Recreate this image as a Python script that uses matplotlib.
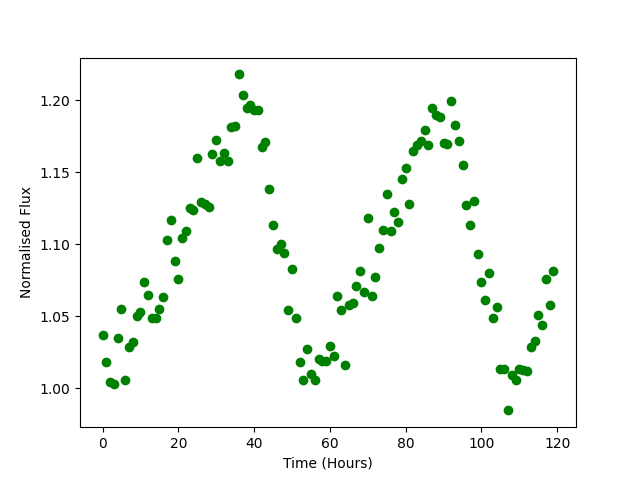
import matplotlib
matplotlib.use("Agg")
import matplotlib.pyplot as plt
import numpy as np

time_hours = list(range(120))
flux = [
    1.0366, 1.0178, 1.0042, 1.0026, 1.0345, 1.0547, 1.0053, 1.0287, 1.0322, 1.0500,
    1.0528, 1.0734, 1.0644, 1.0486, 1.0484, 1.0547, 1.0630, 1.1025, 1.1164, 1.0880,
    1.0760, 1.1040, 1.1088, 1.1250, 1.1238, 1.1600, 1.1294, 1.1278, 1.1260, 1.1623,
    1.1720, 1.1574, 1.1634, 1.1574, 1.1810, 1.1817, 1.2178, 1.2033, 1.1942, 1.1965,
    1.1928, 1.1928, 1.1672, 1.1710, 1.1380, 1.1130, 1.0965, 1.1002, 1.0935, 1.0540,
    1.0830, 1.0484, 1.0178, 1.0053, 1.0270, 1.0095, 1.0053, 1.0200, 1.0185, 1.0185,
    1.0290, 1.0222, 1.0637, 1.0540, 1.0160, 1.0574, 1.0588, 1.0706, 1.0812, 1.0670,
    1.1178, 1.0637, 1.0769, 1.0970, 1.1095, 1.1345, 1.1088, 1.1220, 1.1150, 1.1449,
    1.1526, 1.1280, 1.1647, 1.1688, 1.1715, 1.1790, 1.1685, 1.1942, 1.1898, 1.1884,
    1.1700, 1.1694, 1.1991, 1.1824, 1.1715, 1.1547, 1.1269, 1.1130, 1.1297, 1.0928,
    1.0734, 1.0610, 1.0797, 1.0490, 1.0560, 1.0130, 1.0130, 0.9845, 1.0090, 1.0053,
    1.0130, 1.0123, 1.0116, 1.0283, 1.0324, 1.0505, 1.0435, 1.0755, 1.0574, 1.0810,
]

fig, ax = plt.subplots(figsize=(6.4, 4.8), dpi=100)
ax.plot(time_hours, flux, 'o', color='green')
ax.set_xlabel('Time (Hours)')
ax.set_ylabel('Normalised Flux')
fig.savefig('out.png', dpi=100)
